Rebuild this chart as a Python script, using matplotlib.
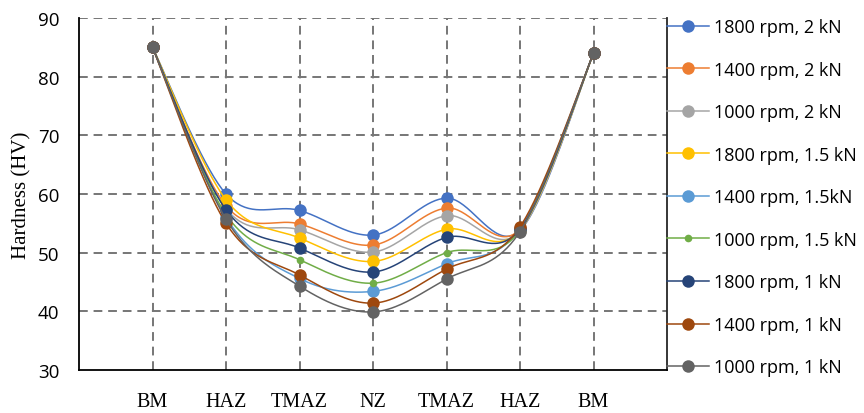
import numpy as np
import matplotlib
matplotlib.use("Agg")
import matplotlib.pyplot as plt
from matplotlib.lines import Line2D

# Hardness profile across the weld zones
categories = ["BM", "HAZ", "TMAZ", "NZ", "TMAZ", "HAZ", "BM"]

labels = [
    "1800 rpm, 2 kN", "1400 rpm, 2 kN", "1000 rpm, 2 kN",
    "1800 rpm, 1.5 kN", "1400 rpm, 1.5kN", "1000 rpm, 1.5 kN",
    "1800 rpm, 1 kN", "1400 rpm, 1 kN", "1000 rpm, 1 kN",
]

hv_1800_2 = [85, 60.0, 57.2, 53.0, 59.3, 53.8, 84]
hv_1400_2 = [85, 58.0, 54.9, 51.3, 57.6, 54.0, 84]
hv_1000_2 = [85, 57.5, 53.9, 50.1, 56.3, 53.7, 84]
hv_1800_15 = [85, 59.0, 52.5, 48.5, 54.0, 53.9, 84]
hv_1400_15 = [85, 56.0, 45.6, 43.4, 48.1, 54.1, 84]
hv_1000_15 = [85, 56.5, 48.8, 44.8, 50.0, 53.8, 84]
hv_1800_1 = [85, 57.3, 50.8, 46.7, 52.6, 54.0, 84]
hv_1400_1 = [85, 55.0, 46.2, 41.4, 47.2, 54.4, 84]
hv_1000_1 = [85, 55.7, 44.3, 39.9, 45.5, 53.6, 84]

series = [hv_1800_2, hv_1400_2, hv_1000_2, hv_1800_15, hv_1400_15,
          hv_1000_15, hv_1800_1, hv_1400_1, hv_1000_1]

colors = ["#4472C4", "#ED7D31", "#A5A5A5", "#FFC000", "#5B9BD5",
          "#70AD47", "#264478", "#9E480E", "#636363"]
marker_sizes = [9, 9, 9, 9, 9, 5.5, 9, 9, 9]

SANS = ["Open Sans", "DejaVu Sans"]
SERIF = ["Liberation Serif", "DejaVu Serif"]

# pixel scale of one unit on each axis, used so the smoothing is done in screen space
X_PX = 73.5
Y_PX = 5.88


def smooth(xs, ys, n=40):
    """Cardinal (Catmull-Rom style) Bezier smoothing through the points."""
    px = np.asarray(xs, float) * X_PX
    py = np.asarray(ys, float) * Y_PX
    pts = np.column_stack([px, py])
    out = [pts[0]]
    m = len(pts)
    t = np.linspace(0, 1, n)[1:]
    for i in range(m - 1):
        p0 = pts[max(i - 1, 0)]
        p1 = pts[i]
        p2 = pts[i + 1]
        p3 = pts[min(i + 2, m - 1)]
        c1 = p1 + (p2 - p0) / 6.0
        c2 = p2 - (p3 - p1) / 6.0
        seg = ((1 - t)[:, None] ** 3 * p1 + 3 * ((1 - t) ** 2 * t)[:, None] * c1
               + 3 * ((1 - t) * t ** 2)[:, None] * c2 + (t ** 3)[:, None] * p2)
        out.extend(seg)
    out = np.array(out)
    return out[:, 0] / X_PX, out[:, 1] / Y_PX


fig = plt.figure(figsize=(8.64, 4.14), dpi=100)
ax = fig.add_axes([79 / 864, 43 / 414, (667 - 79) / 864, (371 - 19) / 414])

x = np.arange(len(categories))
for k, (vals, col, ms) in enumerate(zip(series, colors, marker_sizes)):
    sx, sy = smooth(x, vals)
    ax.plot(sx, sy, color=col, lw=1.1, zorder=3 + k, solid_capstyle="round")
    ax.plot(x, vals, ls="none", marker="o", ms=ms, color=col,
            markeredgewidth=0, zorder=3 + k)

ax.set_xlim(-1, 7)
ax.set_ylim(30, 90)
ax.set_yticks(np.arange(30, 91, 10))
ax.set_xticks(x)
ax.set_xticklabels(categories, fontfamily=SERIF, fontsize=14.5)
for lab in ax.get_yticklabels():
    lab.set_fontfamily(SANS)
    lab.set_fontsize(13.5)
ax.tick_params(axis="both", length=0)
ax.tick_params(axis="y", pad=14)
ax.tick_params(axis="x", pad=16)

grid_kw = dict(color="#767676", lw=1.4, ls=(0, (4.5, 3)), zorder=1)
for yv in range(40, 91, 10):
    ax.axhline(yv, **grid_kw)
for xv in x:
    ax.axvline(xv, **grid_kw)

for side in ("left", "bottom"):
    ax.spines[side].set_color("black")
    ax.spines[side].set_linewidth(1.3)
ax.spines["right"].set_color("#262626")
ax.spines["right"].set_linewidth(1.3)
ax.spines["top"].set_visible(False)

ax.set_ylabel("Hardness (HV)", fontfamily=SERIF, fontsize=15, labelpad=5)

handles = [Line2D([0], [0], color=c, lw=1.1, marker="o", ms=ms,
                  markeredgewidth=0)
           for c, ms in zip(colors, marker_sizes)]
leg = fig.legend(handles, labels, loc="upper left",
                 bbox_to_anchor=(667 / 864, 1 - 19 / 414),
                 frameon=False, prop={"family": SANS, "size": 13},
                 handlelength=2.3, handletextpad=0.3, labelspacing=1.36,
                 borderaxespad=0, borderpad=0)

fig.savefig("out.png", dpi=100)
